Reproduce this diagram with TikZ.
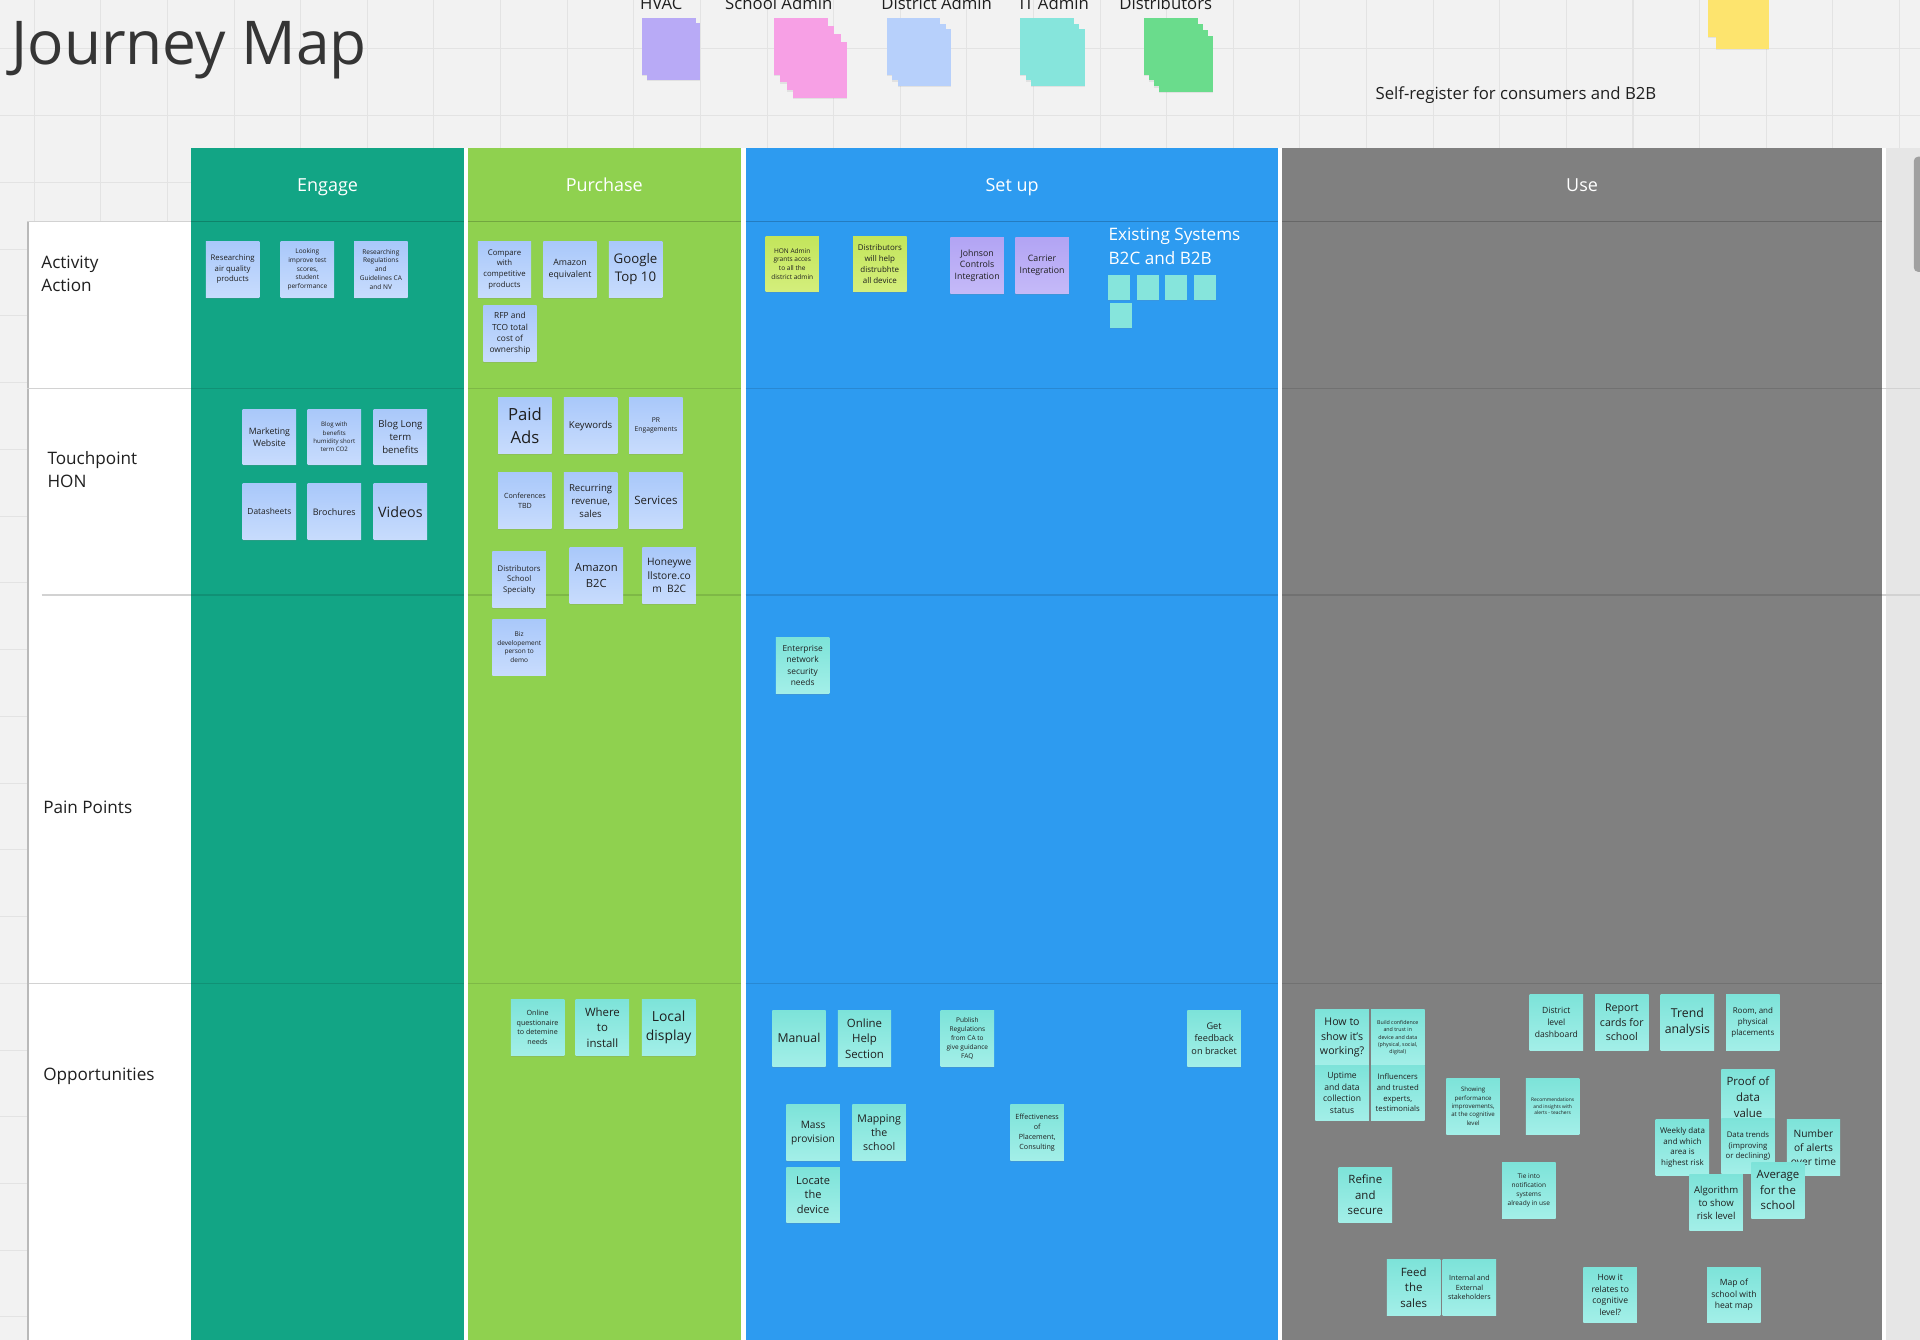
\documentclass[tikz,border=0pt]{standalone}
\usepackage{fontspec}
\setmainfont{Open Sans}
\usetikzlibrary{shadows}
\definecolor{board}{HTML}{F2F2F2}
\definecolor{gridln}{HTML}{E3E3E3}
\definecolor{ink}{HTML}{1F1F1F}
\definecolor{engage}{HTML}{12A585}
\definecolor{purchase}{HTML}{8FD14F}
\definecolor{setup}{HTML}{2D9BF0}
\definecolor{usecol}{HTML}{808080}
\definecolor{sidegray}{HTML}{E6E6E6}
\definecolor{rulegray}{HTML}{D2D2D2}
\definecolor{bluA}{HTML}{A9C8FA}
\definecolor{bluB}{HTML}{C8DCFD}
\definecolor{tealA}{HTML}{7DE3D9}
\definecolor{tealB}{HTML}{A3EFE8}
\definecolor{limeA}{HTML}{C3E55B}
\definecolor{limeB}{HTML}{D4EE7C}
\definecolor{lilacA}{HTML}{B2A4F4}
\definecolor{lilacB}{HTML}{C5BAF8}
\definecolor{hvac}{HTML}{B8AAF6}
\definecolor{school}{HTML}{F7A0E5}
\definecolor{district}{HTML}{B7D0FB}
\definecolor{itadm}{HTML}{86E5DC}
\definecolor{distrib}{HTML}{6ADC8C}
\definecolor{yel}{HTML}{FDE46E}
\newcommand{\fsz}[1]{\fontsize{#1}{\fpeval{1.36*#1}}\selectfont}

\begin{document}
\begin{tikzpicture}[x=0.6pt,y=-0.6pt,
  note/.style={minimum width=26.2pt,minimum height=27.3pt,inner sep=0.4pt,align=center,text=ink,
    drop shadow={shadow xshift=0pt,shadow yshift=-0.7pt,opacity=0.2}},
  blu/.style={note,top color=bluA,bottom color=bluB},
  tea/.style={note,top color=tealA,bottom color=tealB},
  lim/.style={note,top color=limeA,bottom color=limeB},
  lil/.style={note,top color=lilacA,bottom color=lilacB},
  fz/.style={font=\fsz{#1}},
  lgd/.style={minimum width=26.4pt,minimum height=27.6pt,inner sep=0pt,
    drop shadow={shadow xshift=0pt,shadow yshift=-0.7pt,opacity=0.15}},
  lgdtxt/.style={anchor=base,text=ink,font=\fsz{8.2}},
  colhead/.style={anchor=base,text=white,font=\fsz{8.8}},
  rowlbl/.style={anchor=west,align=left,inner sep=0pt,text=ink,font=\fsz{8.4}},
  rowln/.style={line width=0.6pt},
  mini/.style={minimum width=10.8pt,minimum height=12.3pt,inner sep=0pt,fill=itadm,
    drop shadow={shadow xshift=0pt,shadow yshift=-0.5pt,opacity=0.15}}]
\useasboundingbox (0,0) rectangle (1568,1094);
\fill[board] (0,0) rectangle (1568,1094);
\foreach \gx in {28,82.4,...,1568} \draw[gridln,line width=0.5pt] (\gx,0) -- (\gx,1094);
\foreach \gy in {40,94.5,...,1094} \draw[gridln,line width=0.5pt] (0,\gy) -- (1568,\gy);

\node[anchor=base west,inner sep=0pt,text=ink!90,font=\fsz{29.6}] (title) at (9,52.5) {Journey Map};
\node[lgdtxt] (lHvac) at (540,7.5) {HVAC};
\node[lgdtxt] (lSchool) at (636,7.5) {School Admin};
\node[lgdtxt] (lDistrict) at (765,7.5) {District Admin};
\node[lgdtxt] (lIt) at (861,7.5) {IT Admin};
\node[lgdtxt] (lDistrib) at (952,7.5) {Distributors};
\foreach \k in {0,1} \node[lgd,fill=hvac] (hvac\k) at (546+4*\k,38+4*\k) {};
\foreach \k in {0,...,3} \node[lgd,fill=school] (school\k) at (654+5.3*\k,38+6.3*\k) {};
\foreach \k in {0,1,2} \node[lgd,fill=district] (district\k) at (746+4.5*\k,38+4.5*\k) {};
\foreach \k in {0,1,2} \node[lgd,fill=itadm] (itadm\k) at (855+4.5*\k,38+4.5*\k) {};
\foreach \k in {0,...,3} \node[lgd,fill=distrib] (distrib\k) at (956+4.3*\k,38+4.7*\k) {};
\foreach \k in {0,1} \node[lgd,fill=yel] (yel\k) at (1417+6*\k,7+10*\k) {};
\node[text=ink,font=\fsz{8.2}] (selfreg) at (1238,78) {Self-register for consumers and B2B};

\fill[white] (156,121) rectangle (1540,1094);
\fill[sidegray] (1540,121) rectangle (1568,1094);
\fill[usecol!75!white,rounded corners=2pt] (1563,128) rectangle (1574,222);
\foreach \xa/\xb/\c in {156/379/engage,382/605/purchase,609/1044/setup,1047/1537/usecol} {
  \fill[\c] (\xa,121) rectangle (\xb,1094);
  \draw[\c!80!black,rowln] (\xa,181) -- (\xb,181);
  \foreach \ry in {317,486,803} \draw[\c!88!black,rowln] (\xa,\ry) -- (\xb,\ry);
}
\draw[rulegray,rowln] (1537,317) -- (1568,317) (1537,486) -- (1568,486);
\node[colhead] (hEng) at (267.5,156.5) {Engage};
\node[colhead] (hPur) at (493.5,156.5) {Purchase};
\node[colhead] (hSet) at (826.5,156.5) {Set up};
\node[colhead] (hUse) at (1292,156.5) {Use};

\fill[white] (22,181) rectangle (156,1094);
\draw[gray!55,line width=1pt] (22.5,181) -- (22.5,1094);
\draw[rulegray,rowln] (22,181) -- (156,181) (22,317) -- (156,317) (34,486) -- (156,486) (24,803) -- (156,803);
\node[rowlbl] (rowAct) at (33.5,223.5) {Activity\\Action};
\node[rowlbl] (rowTch) at (38.5,383.5) {Touchpoint\\HON};
\node[rowlbl] (rowPain) at (35,659) {Pain Points};
\node[rowlbl] (rowOpp) at (35,879) {Opportunities};

\node[blu,fz=3.8] (eA1) at (190,220) {Researching\\air quality\\products};
\node[blu,fz=3.2] (eA2) at (251,220) {Looking\\improve test\\scores,\\student\\performance};
\node[blu,fz=3.2] (eA3) at (311,220) {Researching\\Regulations\\and\\Guidelines CA\\and NV};
\node[blu,fz=4.3] (eT1) at (220,357) {Marketing\\Website};
\node[blu,fz=3.0] (eT2) at (273,357) {Blog with\\benefits\\humidity short\\term CO2};
\node[blu,fz=4.7] (eT3) at (327,357) {Blog Long\\term\\benefits};
\node[blu,fz=4.1] (eT4) at (220,418) {Datasheets};
\node[blu,fz=4.4] (eT5) at (273,418) {Brochures};
\node[blu,fz=7.0] (eT6) at (327,418) {Videos};

\node[blu,fz=3.8] (pA1) at (412,220) {Compare\\with\\competitive\\products};
\node[blu,fz=4.3] (pA2) at (465.5,220) {Amazon\\equivalent};
\node[blu,fz=6.5] (pA3) at (519,220) {Google\\Top 10};
\node[blu,fz=4.1] (pA4) at (416.5,272.5) {RFP and\\TCO total\\cost of\\ownership};
\node[blu,fz=8.2] (pT1) at (428.7,347.5) {Paid\\Ads};
\node[blu,fz=4.7] (pT2) at (482.3,347.5) {Keywords};
\node[blu,fz=3.3] (pT3) at (535.7,347.5) {PR\\Engagements};
\node[blu,fz=3.5] (pT4) at (428.7,409) {Conferences\\TBD};
\node[blu,fz=4.7] (pT5) at (482.3,409) {Recurring\\revenue,\\sales};
\node[blu,fz=5.6] (pT6) at (535.7,409) {Services};
\node[blu,fz=3.8] (pT7) at (424,473.5) {Distributors\\School\\Specialty};
\node[blu,fz=5.5] (pT8) at (487,470) {Amazon\\B2C};
\node[blu,fz=5.0] (pT9) at (546.5,470) {Honeywe\\llstore.co\\m~~B2C};
\node[blu,fz=3.2] (pP1) at (424,528.5) {Biz\\developement\\person to\\demo};
\node[tea,fz=3.5] (pO1) at (439,839) {Online\\questionaire\\to detemine\\needs};
\node[tea,fz=5.6] (pO2) at (492,839) {Where\\to\\install};
\node[tea,fz=6.8] (pO3) at (546,839) {Local\\display};

\node[lim,fz=3.2] (sA1) at (647,215.5) {HON Admin\\grants acces\\to all the\\district admin};
\node[lim,fz=3.9] (sA2) at (718.5,215.5) {Distributors\\will help\\distrubhte\\all device};
\node[lil,fz=4.3] (sA3) at (798,217) {Johnson\\Controls\\Integration};
\node[lil,fz=4.3] (sA4) at (851,217) {Carrier\\Integration};
\node[anchor=north west,align=left,inner sep=0pt,text=white,font=\fsz{8.4}] (exist) at (905,186) {Existing Systems\\B2C and B2B};
\foreach \i/\sx/\sy in {1/914/235,2/937.5/235,3/960.5/235,4/984/235,5/915.5/258} \node[mini] (sq\i) at (\sx,\sy) {};
\node[tea,fz=4.1] (sP1) at (655.5,543.5) {Enterprise\\network\\security\\needs};
\node[tea,fz=6.0] (sO1) at (652.5,848) {Manual};
\node[tea,fz=5.6] (sO2) at (706,848) {Online\\Help\\Section};
\node[tea,fz=3.2] (sO3) at (790,848) {Publish\\Regulations\\from CA to\\give guidance\\FAQ};
\node[tea,fz=4.5] (sO4) at (991.5,848) {Get\\feedback\\on bracket};
\node[tea,fz=5.0] (sO5) at (664,925) {Mass\\provision};
\node[tea,fz=5.2] (sO6) at (718,925) {Mapping\\the\\school};
\node[tea,fz=3.5] (sO7) at (847,925) {Effectiveness\\of\\Placement,\\Consulting};
\node[tea,fz=5.4] (sO8) at (664,976) {Locate\\the\\device};

\node[tea,fz=5.2] (uO1) at (1096,847.5) {How to\\show it's\\working?};
\node[tea,fz=4.2] (uO2) at (1096,892.5) {Uptime\\and data\\collection\\status};
\node[tea,fz=2.6] (uO3) at (1141.5,847.5) {Build confidence\\and trust in\\device and data\\(physical, social,\\digital)};
\node[tea,fz=3.8] (uO4) at (1141.5,892.5) {Influencers\\and trusted\\experts,\\testimonials};
\node[tea,fz=3.0] (uO5) at (1203,903.5) {Showing\\performance\\improvements,\\at the cognitive\\level};
\node[tea,fz=2.4] (uO6) at (1268,903.5) {Recommendations\\and insights with\\alerts - teachers};
\node[tea,fz=4.2] (uO7) at (1271,835) {District\\level\\dashboard};
\node[tea,fz=5.2] (uO8) at (1324.5,835) {Report\\cards for\\school};
\node[tea,fz=6.0] (uO9) at (1378,835) {Trend\\analysis};
\node[tea,fz=3.9] (uO10) at (1431.5,835) {Room, and\\physical\\placements};
\node[tea,fz=5.6] (uO11) at (1115,976) {Refine\\and\\secure};
\node[tea,fz=3.2] (uO12) at (1248.5,972) {Tie into\\notification\\systems\\already in use};
\node[tea,fz=5.6] (uO13) at (1427.5,896) {Proof of\\data\\value};
\node[tea,fz=3.8] (uO14) at (1427.5,936) {Data trends\\(improving\\or declining)};
\node[tea,fz=3.9] (uO15) at (1374,937) {Weekly data\\and which\\area is\\highest risk};
\node[tea,fz=5.0] (uO16) at (1481,937) {Number\\of alerts\\over time};
\node[tea,fz=4.7] (uO17) at (1401.5,982) {Algorithm\\to show\\risk level};
\node[tea,fz=5.6] (uO18) at (1452,972) {Average\\for the\\school};
\node[tea,fz=5.6] (uO19) at (1154.5,1051.5) {Feed\\the\\sales};
\node[tea,fz=3.5] (uO20) at (1200,1051.5) {Internal and\\External\\stakeholders};
\node[tea,fz=4.2] (uO21) at (1315,1057.5) {How it\\relates to\\cognitive\\level?};
\node[tea,fz=4.2] (uO22) at (1416,1057.5) {Map of\\school with\\heat map};
\end{tikzpicture}
\end{document}
